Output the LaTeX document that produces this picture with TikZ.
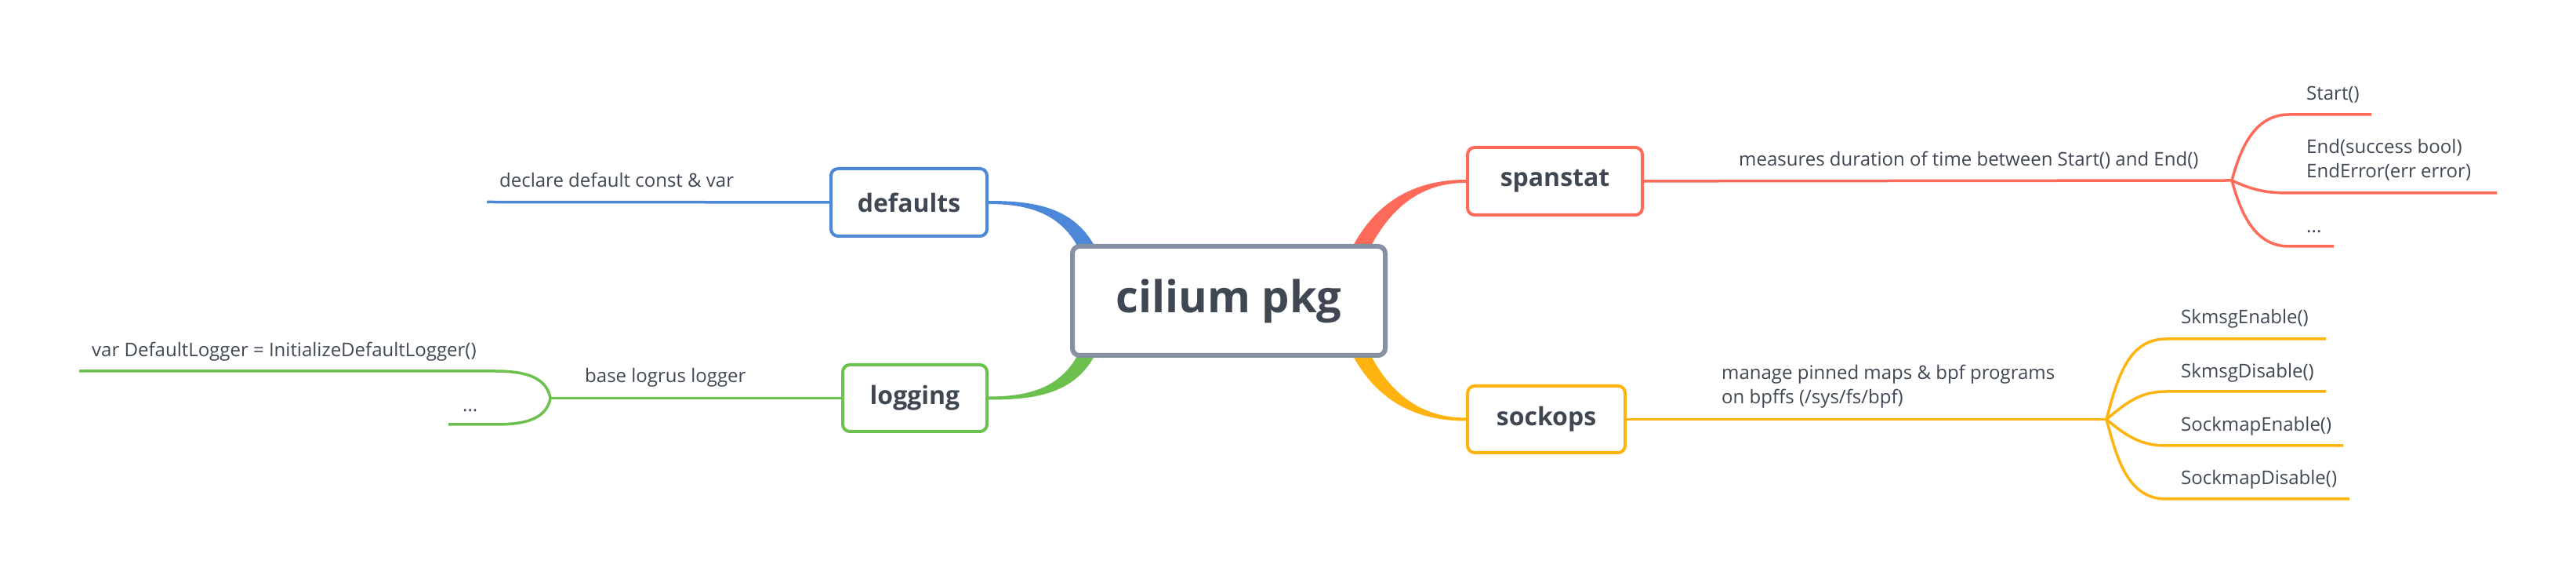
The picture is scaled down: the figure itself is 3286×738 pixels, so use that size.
\documentclass[tikz,border=0pt]{standalone}
\usepackage{fontspec}
\setmainfont{Open Sans}
\usetikzlibrary{positioning,backgrounds}
\definecolor{topicgrey}{HTML}{8590A2}
\definecolor{textgrey}{HTML}{3F4752}
\definecolor{ssred}{HTML}{FF6B5A}
\definecolor{skyellow}{HTML}{FFB30F}
\definecolor{lggreen}{HTML}{6CC04E}
\definecolor{dfblue}{HTML}{4D88D8}
\tikzset{
	topic/.style={
		rectangle,
		rounded corners=9pt,
		line width=4pt,
		fill=white,
		text=textgrey,
		font=\fontsize{32}{36}\selectfont\bfseries
	}
}

\begin{document}
\begin{tikzpicture}[x=1pt,y=1pt]
		\tikzstyle{sub}=[line width=3.5pt]
		\tikzstyle{lbl}=[anchor=base west, inner sep=0pt, text=textgrey, font=\fontsize{24}{31}\selectfont]
		\useasboundingbox (0,0) rectangle (3286,738);
		\node[topic, draw=topicgrey, line width=6pt, minimum width=399pt, minimum height=139pt, font=\fontsize{56}{60}\selectfont\bfseries] (pkg) at (1567.5,354.5) {cilium pkg};
		\node[topic, draw=ssred, minimum width=223pt, minimum height=86pt] (spanstat) [above right=35pt and 100pt of pkg] {spanstat};
		\node[topic, draw=skyellow, minimum width=201pt, minimum height=85pt] (sockops) [below right=34pt and 100pt of pkg] {sockops};
		\node[topic, draw=dfblue, minimum width=199pt, minimum height=86pt] (defaults) [above left=8pt and 104pt of pkg] {defaults};
		\node[topic, draw=lggreen, minimum width=184pt, minimum height=85pt] (logging) [below left=7pt and 104pt of pkg] {logging};
		
		\begin{scope}[on background layer]
		\fill[dfblue] ([yshift=2]defaults.east) to[out=0,in=118] ([xshift=32,yshift=-4]pkg.north west) -- ([xshift=10,yshift=-4]pkg.north west) to[out=118,in=0] ([yshift=-2]defaults.east) -- cycle;
		\fill[ssred] ([yshift=2]spanstat.west) to[out=180,in=62] ([xshift=-45,yshift=-4]pkg.north east) -- ([xshift=-22,yshift=-4]pkg.north east) to[out=62,in=180] ([yshift=-2]spanstat.west) -- cycle;
		\fill[skyellow] ([yshift=-2]sockops.west) to[out=180,in=-62] ([xshift=-45,yshift=4]pkg.south east) -- ([xshift=-22,yshift=4]pkg.south east) to[out=-62,in=180] ([yshift=2]sockops.west) -- cycle;
		\fill[lggreen] ([yshift=-2]logging.east) to[out=0,in=-118] ([xshift=32,yshift=4]pkg.south west) -- ([xshift=10,yshift=4]pkg.south west) to[out=-118,in=0] ([yshift=2]logging.east) -- cycle;
		\end{scope}
		
		% defaults
		\coordinate (defend) at (621,480.5);
		\draw[sub, dfblue] (defaults) -- (defend);
		\node[lbl] (dflbl) at (637,499) {declare default const \& var};
		
		% logging
		\coordinate (lgb) at (702,230.5);
		\coordinate (lg1) at (101,265);
		\coordinate (lg2) at (572,197);
		\draw[sub, lggreen] (logging) -- (lgb);
		\draw[sub, lggreen] (lgb) to[out=100,in=0] ([xshift=530]lg1) -- (lg1);
		\draw[sub, lggreen] (lgb) to[out=-100,in=0] ([xshift=59]lg2) -- (lg2);
		\node[lbl] (lglbl) at (746,250) {base logrus logger};
		\node[lbl] (lg1lbl) at (117,283) {var DefaultLogger = InitializeDefaultLogger()};
		\node[lbl] (lg2lbl) at (590,213) {...};
		
		% spanstat
		\coordinate (ssb) at (2847,508);
		\coordinate (ss1) at (3025,592);
		\coordinate (ss2) at (3185,492);
		\coordinate (ss3) at (2977,424);
		\draw[sub, ssred] (spanstat) -- (ssb);
		\draw[sub, ssred] (ssb) to[out=75,in=180] ([xshift=-105]ss1) -- (ss1);
		\draw[sub, ssred] (ssb) to[out=-25,in=180] ([xshift=-265]ss2) -- (ss2);
		\draw[sub, ssred] (ssb) to[out=-75,in=180] ([xshift=-57]ss3) -- (ss3);
		\node[lbl] (sslbl) at (2218,526) {measures duration of time between Start() and End()};
		\node[lbl] (ss1lbl) at (2942,610) {Start()};
		\node[lbl, align=left] (ss2lbl) at (2942,511) {End(success bool)\\EndError(err error)};
		\node[lbl] (ss3lbl) at (2942,441) {...};
		
		% sockops
		\coordinate (skb) at (2687,203.5);
		\coordinate (sk1) at (2967,306);
		\coordinate (sk2) at (2967,239);
		\coordinate (sk3) at (2989,170);
		\coordinate (sk4) at (2997,102);
		\draw[sub, skyellow] (sockops) -- (skb);
		\draw[sub, skyellow] (skb) to[out=75,in=180] ([xshift=-204]sk1) -- (sk1);
		\draw[sub, skyellow] (skb) to[out=40,in=180] ([xshift=-204]sk2) -- (sk2);
		\draw[sub, skyellow] (skb) to[out=-40,in=180] ([xshift=-226]sk3) -- (sk3);
		\draw[sub, skyellow] (skb) to[out=-75,in=180] ([xshift=-234]sk4) -- (sk4);
		\node[lbl, align=left] (sklbl) at (2196,223) {manage pinned maps \& bpf programs\\on bpffs (/sys/fs/bpf)};
		\node[lbl] (sk1lbl) at (2782,325) {SkmsgEnable()};
		\node[lbl] (sk2lbl) at (2782,256) {SkmsgDisable()};
		\node[lbl] (sk3lbl) at (2782,188) {SockmapEnable()};
		\node[lbl] (sk4lbl) at (2782,120) {SockmapDisable()};
		
\end{tikzpicture}
\end{document}
